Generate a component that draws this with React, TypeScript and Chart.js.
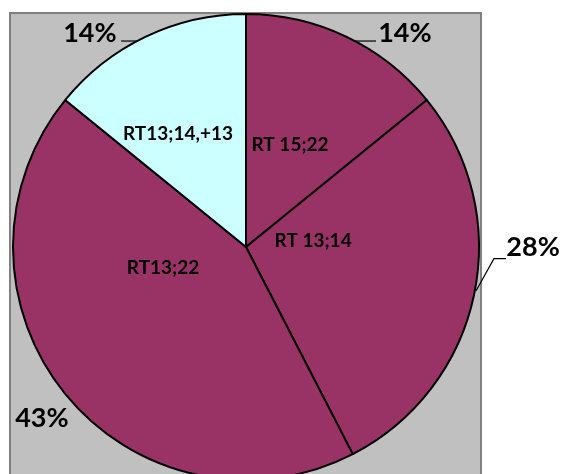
import React, { useEffect, useRef } from "react";
import { Chart, registerables } from "chart.js";

Chart.register(...registerables);

const categories = ["RT 15;22", "RT 13;14", "RT13;22", "RT13;14,+13"];
const values = [14, 28, 43, 14];
const sliceColors = ["#993366", "#993366", "#993366", "#CCFFFF"];

// label placement relative to pie centre, in units of radius
const innerLabelPos = [
  [0.189, -0.438],
  [0.288, -0.026],
  [-0.356, 0.09],
  [-0.292, -0.485],
];
const pctLabelPos = [
  [0.682, -0.918],
  [1.232, 0.0],
  [-0.876, 0.734],
  [-0.67, -0.918],
];
const leaders: number[][][] = [
  [[0.459, -0.884], [0.558, -0.884]],
  [[0.987, 0.189], [1.064, 0.05], [1.116, 0.05]],
  [],
  [[-0.536, -0.884], [-0.47, -0.884]],
];

const decorPlugin = {
  id: "decor",
  beforeDraw(chart: any) {
    const ctx = chart.ctx;
    ctx.save();
    ctx.fillStyle = "#C0C0C0";
    ctx.fillRect(10, 13, 471, 480);
    ctx.strokeStyle = "#808080";
    ctx.lineWidth = 2;
    ctx.strokeRect(10, 13, 471, 480);
    ctx.restore();
  },
  afterDraw(chart: any) {
    const ctx = chart.ctx;
    const meta = chart.getDatasetMeta(0);
    const arc0 = meta.data[0];
    const cx = arc0.x;
    const cy = arc0.y;
    const R = arc0.outerRadius;
    const total = values.reduce((a, b) => a + b, 0);
    ctx.save();
    ctx.fillStyle = "#000";
    ctx.textAlign = "center";
    ctx.textBaseline = "middle";
    ctx.font = "bold 19px Lato";
    categories.forEach((c, i) => {
      const [fx, fy] = innerLabelPos[i];
      ctx.fillText(c, cx + fx * R, cy + fy * R);
    });
    ctx.font = "bold 27px Lato";
    values.forEach((v, i) => {
      const pct = Math.round((v / total) * 100) + "%";
      const [fx, fy] = pctLabelPos[i];
      ctx.fillText(pct, cx + fx * R, cy + fy * R);
      const pts = leaders[i];
      if (pts.length) {
        ctx.beginPath();
        ctx.strokeStyle = "#000";
        ctx.lineWidth = 1.2;
        pts.forEach(([px, py], k) => {
          const X = cx + px * R;
          const Y = cy + py * R;
          if (k === 0) ctx.moveTo(X, Y);
          else ctx.lineTo(X, Y);
        });
        ctx.stroke();
      }
    });
    ctx.restore();
  },
};

export default function App() {
  const ref = useRef<HTMLCanvasElement>(null);
  useEffect(() => {
    if (!ref.current) return;
    const chart = new Chart(ref.current, {
      type: "pie",
      data: {
        labels: categories,
        datasets: [
          {
            data: values,
            backgroundColor: sliceColors,
            borderColor: "#000000",
            borderWidth: 2,
          },
        ],
      },
      options: {
        responsive: false,
        animation: false,
        devicePixelRatio: 1,
        layout: { padding: { left: 12, top: 13, right: 81, bottom: 9 } },
        plugins: {
          legend: { display: false },
          tooltip: { enabled: false },
        },
      },
      plugins: [decorPlugin],
    });
    return () => chart.destroy();
  }, []);
  return (
    <div
      style={{
        position: "fixed",
        left: 0,
        top: 0,
        width: 561,
        height: 474,
        overflow: "hidden",
        background: "#fff",
      }}
    >
      <canvas ref={ref} width={561} height={490} style={{ display: "block", width: 561, height: 490 }} />
    </div>
  );
}
